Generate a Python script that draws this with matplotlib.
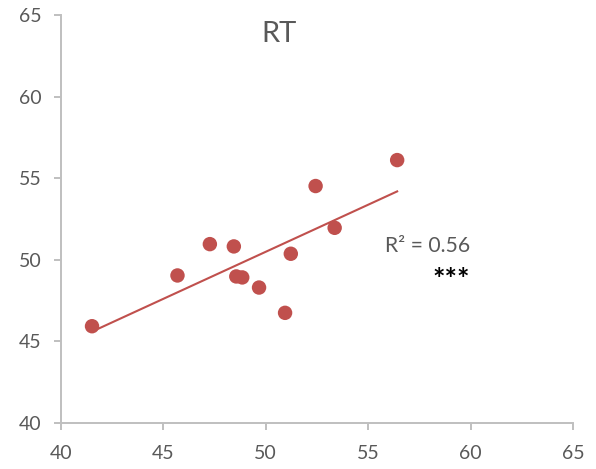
import numpy as np
import matplotlib
matplotlib.use("Agg")
import matplotlib.pyplot as plt

# values
x_vals = [41.53, 45.70, 47.28, 48.45, 48.57, 48.86, 49.68, 50.95, 51.23, 52.44, 53.37, 56.42]
y_vals = [45.93, 49.04, 50.96, 50.82, 48.98, 48.92, 48.30, 46.75, 50.37, 54.52, 51.96, 56.11]
ticks = [40, 45, 50, 55, 60, 65]
title = "RT"
r2_label = "R² = 0.56"
sig_label = "***"

red = "#c0504d"
grey_text = "#595959"
grey_axis = "#bfbfbf"

plt.rcParams["font.family"] = ["Lato", "DejaVu Sans"]

fig = plt.figure(figsize=(5.96, 4.69), dpi=100)
ax = fig.add_axes([0.1018, 0.0981, 0.8596, 0.8699])

x = np.array(x_vals)
y = np.array(y_vals)
ax.scatter(x, y, s=108, color=red, edgecolors="none", zorder=3)

# linear trendline over the data range
slope, intercept = np.polyfit(x, y, 1)
xs = np.array([x.min(), x.max()])
ax.plot(xs, slope * xs + intercept, color=red, lw=1.5, zorder=2)

ax.set_xlim(40, 65)
ax.set_ylim(40, 65)
ax.set_xticks(ticks)
ax.set_yticks(ticks)

for side in ["top", "right"]:
    ax.spines[side].set_visible(False)
for side in ["left", "bottom"]:
    ax.spines[side].set_color(grey_axis)
    ax.spines[side].set_linewidth(1.4)

ax.tick_params(axis="both", colors=grey_axis, length=5, width=1.4,
               labelcolor=grey_text, labelsize=14)
ax.tick_params(axis="x", pad=11)
ax.tick_params(axis="y", pad=9)

ax.text(0.426, 0.9346, title, transform=ax.transAxes, ha="center",
        va="baseline", fontsize=21, color=grey_text)
ax.text(0.799, 0.419, r2_label, transform=ax.transAxes, ha="right",
        va="baseline", fontsize=15.2, color=grey_text)
ax.text(0.799, 0.331, sig_label, transform=ax.transAxes, ha="right",
        va="baseline", fontsize=21, fontweight="bold", color="black")

fig.savefig("out.png", dpi=100)
